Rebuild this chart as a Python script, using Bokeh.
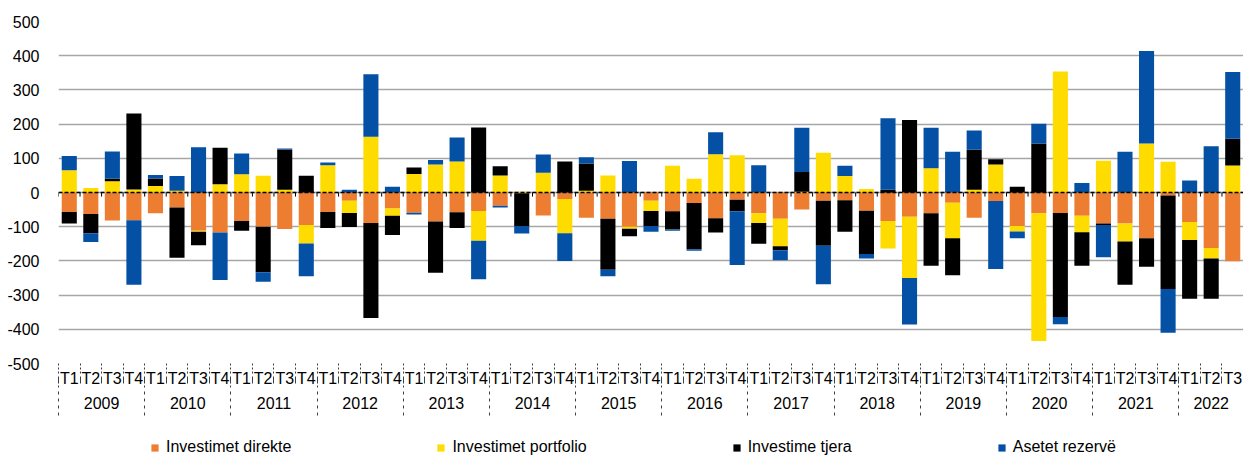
from bokeh.plotting import figure
from bokeh.layouts import column
from bokeh.models import (ColumnDataSource, Range1d, LinearAxis, FixedTicker, Span,
                          Legend, LegendItem)
from bokeh.embed import file_html
from bokeh.resources import INLINE

years = ["2009", "2010", "2011", "2012", "2013", "2014", "2015",
         "2016", "2017", "2018", "2019", "2020", "2021", "2022"]
quarters = ["T1", "T2", "T3", "T4"]
quarter_labels = [q for y in years for q in quarters][:55]

direkte = [-57, -63, -82, -81, -61, -44, -112, -117, -83, -100, -107, -95,
           -57, -24, -89, -47, -59, -85, -58, -54, -39, -2, -67, -19,
           -74, -77, -100, -24, -55, -31, -75, -21, -61, -77, -50, -24,
           -23, -53, -83, -71, -61, -30, -74, -25, -98, -61, -60, -68,
           -91, -91, -134, -9, -86, -162, -201]
portfolio = [65, 13, 33, 9, 19, 5, -3, 24, 53, 49, 8, -54,
             80, -36, 163, -21, 54, 82, 91, -87, 50, 2, 58, -100,
             5, 50, -6, -30, 78, 40, 112, 109, -28, -80, 2, 116,
             48, 10, -81, -179, 71, -104, 8, 82, -16, -373, 354, -48,
             93, -52, 143, 90, -53, -31, 79]
tjera = [-34, -56, 8, 222, 22, -147, -39, 107, -29, -133, 118, 49,
         -47, -41, -278, -56, 19, -150, -46, 190, 27, -96, 0, 91,
         80, -149, -22, -44, -53, -135, -42, -34, -61, -12, 58, -132,
         -92, -127, 8, 212, -153, -108, 117, 15, 17, 143, -304, -98,
         -4, -127, -83, -273, -172, -118, 78]
rezerve = [42, -26, 79, -189, 10, 43, 132, -139, 61, -28, 3, -96,
           8, 8, 183, 17, -5, 13, 70, -113, -5, -22, 53, -81,
           18, -19, 92, -17, -4, -4, 64, -157, 80, -29, 129, -112,
           30, -13, 209, -136, 118, 119, 56, -199, -20, 58, -21, 28,
           -94, 119, 271, -128, 35, 135, 195]

series_names = ["Investimet direkte", "Investimet portfolio", "Investime tjera", "Asetet rezervë"]
series_colors = ["#ED7D31", "#FFDC00", "#000000", "#0450A5"]
y_ticks = [-500, -400, -300, -200, -100, 0, 100, 200, 300, 400, 500]

n = len(quarter_labels)
xs = list(range(n))
FONT = "Liberation Sans"
FS = "16px"

p = figure(width=1243, height=425, x_range=Range1d(-0.5, n - 0.5),
           y_range=Range1d(-500, 500), x_axis_type=None,
           output_backend="svg", toolbar_location=None,
           min_border_left=58, min_border_right=0, min_border_top=21,
           min_border_bottom=62)
p.outline_line_color = None
p.background_fill_color = "white"

yticker = FixedTicker(ticks=y_ticks)
yaxis = p.yaxis[0]
yaxis.ticker = yticker
yaxis.major_label_overrides = {t: str(t) for t in y_ticks}
yaxis.axis_line_color = None
yaxis.major_tick_line_color = None
yaxis.minor_tick_line_color = None
yaxis.major_label_standoff = 13
yaxis.major_label_text_font = FONT
yaxis.major_label_text_font_size = FS
yaxis.major_label_text_color = "black"
p.ygrid[0].ticker = yticker
p.ygrid[0].grid_line_color = "#A6A6A6"
p.ygrid[0].grid_line_width = 1.5

# stacked bars (positives up, negatives down, in series order)
pos = [0] * n
neg = [0] * n
for name, vals, color in zip(series_names, [direkte, portfolio, tjera, rezerve], series_colors):
    bottoms, tops = [], []
    for i, v in enumerate(vals):
        if v >= 0:
            b = pos[i]
            pos[i] += v
        else:
            b = neg[i]
            neg[i] += v
        bottoms.append(b)
        tops.append(b + v)
    src = ColumnDataSource(dict(x=xs, bottom=bottoms, top=tops))
    p.vbar(x="x", bottom="bottom", top="top", width=0.7, source=src,
           fill_color=color, line_color=None)

# zero axis line with boundary ticks
boundaries = [i - 0.5 for i in range(n + 1)]
p.segment(x0=boundaries, x1=boundaries, y0=[0] * len(boundaries),
          y1=[-12] * len(boundaries), line_color="black", line_width=1)
p.add_layout(Span(location=0, dimension="width", line_color="black",
                  line_width=1.5, line_dash="4 2"))

# quarter axis
qaxis = LinearAxis(ticker=FixedTicker(ticks=xs, minor_ticks=boundaries))
qaxis.major_label_overrides = {i: lab for i, lab in enumerate(quarter_labels)}
qaxis.axis_line_color = None
qaxis.major_tick_line_color = None
qaxis.major_tick_out = 0
qaxis.major_tick_in = 0
qaxis.minor_tick_out = 20
qaxis.minor_tick_in = 0
qaxis.minor_tick_line_color = "#404040"
qaxis.minor_tick_line_dash = "7 3 2 2 2 2 2 2"
qaxis.major_label_standoff = -14
qaxis.major_label_text_font = FONT
qaxis.major_label_text_font_size = FS
qaxis.major_label_text_color = "black"
p.add_layout(qaxis, "below")

# year axis
year_centers = []
year_bounds = [-0.5]
for k, y in enumerate(years):
    idx = [i for i in range(n) if i // 4 == k]
    year_centers.append((idx[0] + idx[-1]) / 2)
    year_bounds.append(idx[-1] + 0.5)
yaxis2 = LinearAxis(ticker=FixedTicker(ticks=year_centers, minor_ticks=year_bounds))
yaxis2.major_label_overrides = {c: y for c, y in zip(year_centers, years)}
yaxis2.axis_line_color = None
yaxis2.major_tick_line_color = None
yaxis2.major_tick_out = 0
yaxis2.major_tick_in = 0
yaxis2.minor_tick_out = 26
yaxis2.minor_tick_in = 4
yaxis2.minor_tick_line_color = "#404040"
yaxis2.minor_tick_line_dash = "3 4"
yaxis2.major_label_standoff = -19
yaxis2.major_label_text_font = FONT
yaxis2.major_label_text_font_size = FS
yaxis2.major_label_text_color = "black"
p.add_layout(yaxis2, "below")

# legend strip (separate figure; swatch renderers hold no visible data)
lf = figure(width=1243, height=31, x_range=Range1d(0, 1), y_range=Range1d(0, 1),
            x_axis_type=None, y_axis_type=None, output_backend="svg",
            toolbar_location=None, min_border=0)
lf.outline_line_color = None
lf.xgrid.visible = False
lf.ygrid.visible = False
items = []
nan = float("nan")
for name, color in zip(series_names, series_colors):
    r = lf.vbar(x=[nan], top=[nan], width=0.5, fill_color=color, line_color=None)
    items.append(LegendItem(label=name, renderers=[r]))
legend = Legend(items=items, orientation="horizontal", spacing=145,
                glyph_width=9, glyph_height=9, label_standoff=7,
                label_text_font=FONT, label_text_font_size=FS,
                label_text_color="black", border_line_color=None, label_height=18,
                background_fill_alpha=0, location=(92, 0), margin=0, padding=0)
lf.add_layout(legend, "center")

open("out.html", "w").write(file_html(column(p, lf, spacing=0), INLINE))
